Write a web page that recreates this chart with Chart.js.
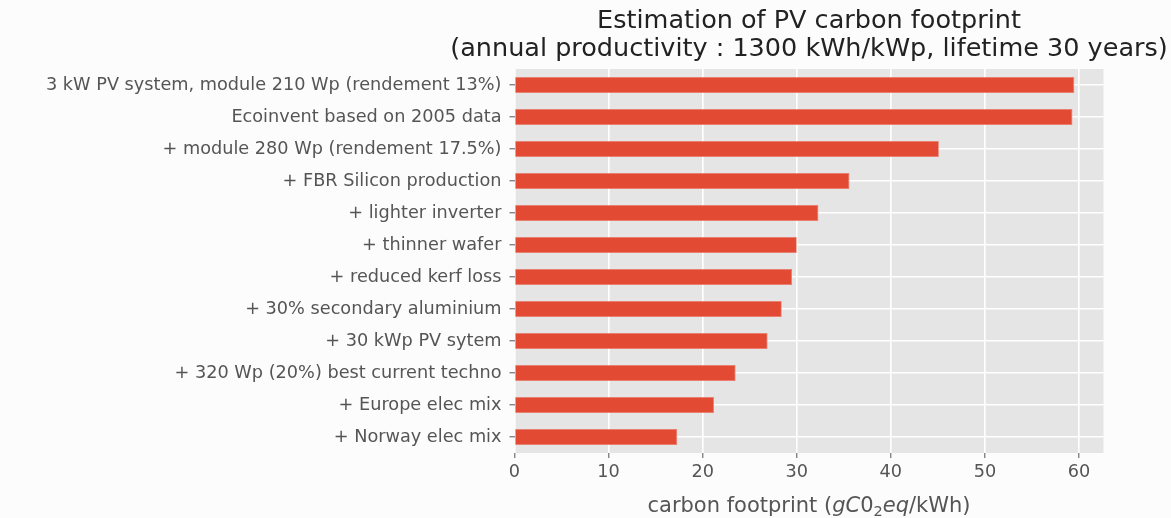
<!DOCTYPE html>
<html>
<head>
<meta charset="utf-8">
<script src="https://cdn.jsdelivr.net/npm/chart.js"></script>
<style>
  body { margin: 0; background: #fcfcfc; }
  canvas { display: block; }
</style>
</head>
<body>
<canvas id="pvChart" width="1171" height="518"></canvas>
<script>
// Data (top to bottom as shown)
const scenarios = [
    '3 kW PV system, module 210 Wp (rendement 13%)',
    'Ecoinvent based on 2005 data',
    '+ module 280 Wp (rendement 17.5%)',
    '+ FBR Silicon production',
    '+ lighter inverter',
    '+ thinner wafer',
    '+ reduced kerf loss',
    '+ 30% secondary aluminium',
    '+ 30 kWp PV sytem',
    '+ 320 Wp (20%) best current techno',
    '+ Europe elec mix',
    '+ Norway elec mix'
];
const footprint = [59.5, 59.3, 45.1, 35.6, 32.3, 30.0, 29.5, 28.4, 26.9, 23.5, 21.2, 17.3];
const xTicks = [0, 10, 20, 30, 40, 50, 60];
const titleLines = [
    'Estimation of PV carbon footprint',
    '(annual productivity : 1300 kWh/kWp, lifetime 30 years)'
];

Chart.defaults.font.family = 'DejaVu Sans';

// grey panel + title + x label with math-ish parts
const ggplotLook = {
    id: 'ggplotLook',
    beforeDraw(chart) {
        const { ctx, chartArea: a } = chart;
        ctx.save();
        ctx.fillStyle = '#fcfcfc';
        ctx.fillRect(0, 0, chart.width, chart.height);
        ctx.fillStyle = '#e5e5e5';
        ctx.fillRect(a.left, a.top, a.right - a.left, a.bottom - a.top);
        ctx.restore();
    },
    afterDraw(chart) {
        const { ctx, chartArea: a } = chart;
        const cx = (a.left + a.right) / 2;
        ctx.save();
        ctx.fillStyle = '#222222';
        ctx.font = '25.5px "DejaVu Sans"';
        ctx.textAlign = 'center';
        ctx.textBaseline = 'middle';
        ctx.fillText(titleLines[0], cx, 21);
        ctx.fillText(titleLines[1], cx, 49);

        // x axis label
        const parts = [
            { t: 'carbon footprint (', f: '21px "DejaVu Sans"', dy: 0 },
            { t: 'gC', f: 'italic 21px "DejaVu Sans"', dy: 0 },
            { t: '0', f: '21px "DejaVu Sans"', dy: 0 },
            { t: '2', f: '14.5px "DejaVu Sans"', dy: 4 },
            { t: 'eq', f: 'italic 21px "DejaVu Sans"', dy: 0 },
            { t: '/kWh)', f: '21px "DejaVu Sans"', dy: 0 }
        ];
        let total = 0;
        parts.forEach(p => { ctx.font = p.f; p.w = ctx.measureText(p.t).width; total += p.w; });
        let x = cx - total / 2;
        ctx.fillStyle = '#555555';
        ctx.textAlign = 'left';
        ctx.textBaseline = 'alphabetic';
        parts.forEach(p => {
            ctx.font = p.f;
            ctx.fillText(p.t, x, 512 + p.dy);
            x += p.w;
        });
        ctx.restore();
    }
};

const ctx = document.getElementById('pvChart').getContext('2d');
new Chart(ctx, {
    type: 'bar',
    data: {
        labels: scenarios,
        datasets: [{
            label: 'carbon footprint',
            data: footprint,
            backgroundColor: '#e24a33',
            borderColor: '#ec7a68',
            borderWidth: 0.8,
            barPercentage: 0.5,
            categoryPercentage: 1.0
        }]
    },
    options: {
        indexAxis: 'y',
        responsive: false,
        animation: false,
        layout: {
            padding: { top: 69, right: 67.5, bottom: 0, left: 0 }
        },
        plugins: {
            legend: { display: false },
            title: { display: false },
            tooltip: { enabled: false }
        },
        scales: {
            x: {
                min: 0,
                max: 62.6,
                afterFit(scale) { scale.height = 65; },
                afterBuildTicks(scale) { scale.ticks = xTicks.map(v => ({ value: v })); },
                border: { display: false },
                grid: {
                    color: '#ffffff',
                    lineWidth: 1.6,
                    tickColor: '#555555',
                    tickLength: 5,
                    tickWidth: 1
                },
                ticks: {
                    color: '#555555',
                    font: { size: 17.7 },
                    padding: 4
                }
            },
            y: {
                afterFit(scale) { scale.width = 514.5; },
                border: { display: false },
                grid: {
                    offset: false,
                    color: '#ffffff',
                    lineWidth: 1.6,
                    tickColor: '#555555',
                    tickLength: 5,
                    tickWidth: 1
                },
                ticks: {
                    color: '#555555',
                    font: { size: 17.7 },
                    padding: 8
                }
            }
        }
    },
    plugins: [ggplotLook]
});
</script>
</body>
</html>
